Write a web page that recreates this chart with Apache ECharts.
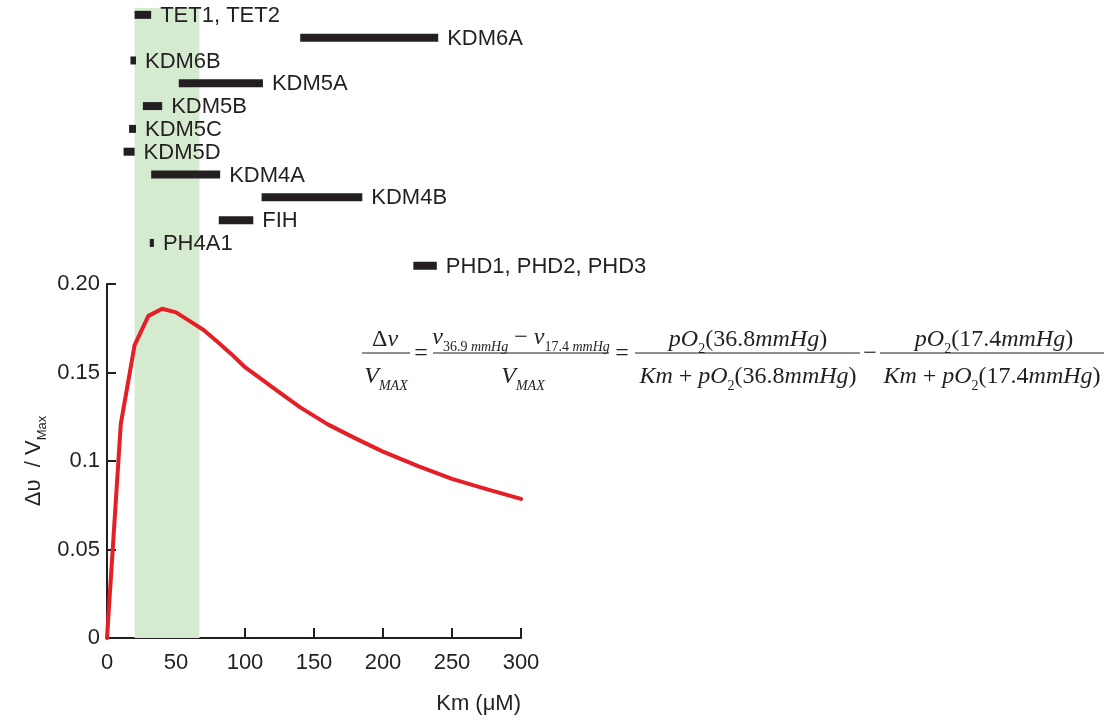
<!DOCTYPE html>
<html>
<head>
<meta charset="utf-8">
<script src="https://cdn.jsdelivr.net/npm/echarts@6/dist/echarts.min.js"></script>
<style>
html,body{margin:0;padding:0;background:#fff;}
#chart{width:1112px;height:720px;}
</style>
</head>
<body>
<div id="chart"></div>
<script>
// ---- data ----
const kmX = [0, 10, 20, 30, 40, 50, 60, 70, 80, 90, 100, 120, 140, 160, 180, 200, 225, 250, 275, 300];
const dvRatio = [0, 0.121, 0.1655, 0.182, 0.186, 0.184, 0.179, 0.174, 0.1674, 0.1605, 0.153, 0.1416, 0.1303, 0.1207, 0.1128, 0.1053, 0.0972, 0.0899, 0.0841, 0.0786];
const enzymes = ['TET1, TET2', 'KDM6A', 'KDM6B', 'KDM5A', 'KDM5B', 'KDM5C', 'KDM5D', 'KDM4A', 'KDM4B', 'FIH', 'PH4A1', 'PHD1, PHD2, PHD3'];
const kmLow  = [20, 140, 17, 52, 26, 16, 12, 32, 112, 81, 31, 222];
const kmHigh = [32, 240, 21, 113, 40, 21, 20, 82, 185, 106, 34, 239];
const bandRange = [20, 67];
const yTickLabels = ['0', '0.05', '0.1', '0.15', '0.20'];

const INK = '#231f20';
const SANS = '"Liberation Sans", Arial, Helvetica, sans-serif';
const SERIF = '"Liberation Serif", "Times New Roman", serif';
const FS = 22;

const chart = echarts.init(document.getElementById('chart'), null, {renderer: 'canvas'});

const curve = kmX.map((x, i) => [x, dvRatio[i]]);
const bars = enzymes.map((n, i) => [kmLow[i], kmHigh[i], i, n]);

// equation rich styles
const eqRich = {
  i:  {fontFamily: SERIF, fontStyle: 'italic', fontSize: 24, verticalAlign: 'bottom', padding: [0, 0, 5, 0], color: INK},
  n:  {fontFamily: SERIF, fontSize: 24, verticalAlign: 'bottom', padding: [0, 0, 5, 0], color: INK},
  s:  {fontFamily: SERIF, fontStyle: 'italic', fontSize: 14, verticalAlign: 'bottom', color: INK},
  sn: {fontFamily: SERIF, fontSize: 14, verticalAlign: 'bottom', color: INK}
};
function eqText(txt, x, y) {
  return {type: 'text', x: x, y: y, silent: true,
    style: {text: txt, rich: eqRich, align: 'center', verticalAlign: 'middle', fill: INK}};
}
function eqLine(x1, x2, y) {
  return {type: 'line', silent: true, shape: {x1: x1, y1: y, x2: x2, y2: y}, style: {stroke: INK, lineWidth: 1.2}};
}
const numY = 342, denY = 379, barY = 353;
const graphics = [
  eqText('{n|Δ}{i|v}', 385, numY), eqLine(362, 410, barY), eqText('{i|V}{s|MAX}', 386, denY),
  eqText('{n|=}', 421, barY + 3),
  eqText('{i|v}{sn|36.9}{s| mmHg}{n| − }{i|v}{sn|17.4}{s| mmHg}', 521, numY - 2), eqLine(433, 609, barY), eqText('{i|V}{s|MAX}', 523, denY),
  eqText('{n|=}', 622, barY + 3),
  eqText('{i|pO}{sn|2}{n|(36.8}{i|mmHg}{n|)}', 748, numY), eqLine(635, 860, barY), eqText('{i|Km}{n| + }{i|pO}{sn|2}{n|(36.8}{i|mmHg}{n|)}', 748, denY),
  eqText('{n|−}', 870, barY + 3),
  eqText('{i|pO}{sn|2}{n|(17.4}{i|mmHg}{n|)}', 994, numY), eqLine(880, 1104, barY), eqText('{i|Km}{n| + }{i|pO}{sn|2}{n|(17.4}{i|mmHg}{n|)}', 992, denY)
];

const option = {
  backgroundColor: '#fff',
  animation: false,
  textStyle: {fontFamily: SANS, color: INK},
  grid: [
    {left: 107, right: 591, top: 284, bottom: 82},   // main plot
    {left: 107, right: 591, top: 8, height: 276},     // enzyme Km bars
    {left: 107, right: 591, top: 8, bottom: 82}       // band across both
  ],
  xAxis: [
    {gridIndex: 0, type: 'value', min: 0, max: 300, interval: 50,
     axisLine: {show: true, lineStyle: {color: INK, width: 2}},
     axisTick: {show: true, inside: true, length: 10, lineStyle: {color: INK, width: 2}},
     splitLine: {show: false},
     axisLabel: {color: INK, fontSize: FS, fontFamily: SANS, margin: 14},
     name: 'Km (μM)', nameLocation: 'end', nameGap: 0,
     nameTextStyle: {color: INK, fontSize: FS, fontFamily: SANS, align: 'right', verticalAlign: 'top', padding: [55, 0, 0, 0]}},
    {gridIndex: 1, type: 'value', min: 0, max: 300, show: false},
    {gridIndex: 2, type: 'value', min: 0, max: 300, show: false}
  ],
  yAxis: [
    {gridIndex: 0, type: 'value', min: 0, max: 0.2, interval: 0.05,
     axisLine: {show: true, lineStyle: {color: INK, width: 2}},
     axisTick: {show: true, inside: true, length: 9, lineStyle: {color: INK, width: 2}},
     splitLine: {show: false},
     axisLabel: {color: INK, fontSize: FS, fontFamily: SANS, margin: 7,
       formatter: (v) => yTickLabels[Math.round(v / 0.05)]},
     name: '{m|Δυ  / V}{sub|Max}', nameLocation: 'middle', nameRotate: 90, nameGap: 58,
     nameTextStyle: {rich: {
       m: {fontSize: FS, fontFamily: SANS, color: INK, verticalAlign: 'bottom', padding: [0, 0, 4, 0]},
       sub: {fontSize: 13, fontFamily: SANS, color: INK, verticalAlign: 'bottom'}
     }}},
    {gridIndex: 1, type: 'value', min: -0.3, max: 11.8, inverse: true, show: false},
    {gridIndex: 2, type: 'value', min: 0, max: 1, show: false}
  ],
  series: [
    {type: 'line', xAxisIndex: 2, yAxisIndex: 2, data: [], z: 0, silent: true,
     markArea: {silent: true, itemStyle: {color: '#d5ebcf'},
       data: [[{xAxis: bandRange[0]}, {xAxis: bandRange[1]}]]}},
    {type: 'custom', xAxisIndex: 1, yAxisIndex: 1, data: bars, z: 3, silent: true,
     renderItem: function (params, api) {
       const s = api.coord([api.value(0), api.value(2)]);
       const e = api.coord([api.value(1), api.value(2)]);
       return {type: 'group', children: [
         {type: 'rect', shape: {x: s[0], y: s[1] - 4, width: e[0] - s[0], height: 8}, style: {fill: INK}},
         {type: 'text', x: e[0] + 9, y: s[1] + 1,
          style: {text: enzymes[params.dataIndex], fill: INK, fontSize: FS, fontFamily: SANS, align: 'left', verticalAlign: 'middle'}}
       ]};
     }},
    {type: 'line', xAxisIndex: 0, yAxisIndex: 0, data: curve, z: 4, showSymbol: false, symbol: 'none', silent: true,
     lineStyle: {color: '#e41f26', width: 4, cap: 'round', join: 'round'}}
  ],
  graphic: graphics
};
chart.setOption(option);
</script>
</body>
</html>
